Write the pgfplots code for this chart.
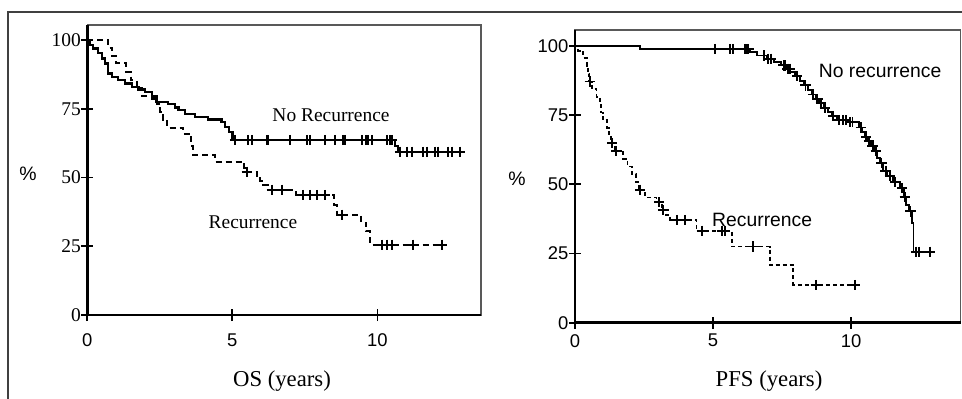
\documentclass[border=0pt]{standalone}
\usepackage{fontspec}
\setmainfont{Liberation Serif}
\newfontfamily\arial{Liberation Sans}
\usepackage{pgfplots}
\pgfplotsset{compat=1.18}
\newcommand\ticksans{\arial\fontsize{18.5}{18.5}\selectfont}
\newcommand\tickserif{\rmfamily\fontsize{19.5}{19.5}\selectfont}
\pgfplotsset{
  kmbase/.style={
    anchor=south west, scale only axis,
    ymin=0,
    xtick={0,5,10}, ytick={0,25,50,75,100},
    xtick pos=bottom, ytick pos=left,
    tick align=center, major tick length=12bp,
    tick style={line width=1.8bp, black},
    axis line style={line width=1.5bp, black!65},
    /pgf/number format/assume math mode=true,
    clip=false,
  },
  solidkm/.style={const plot, black, line width=2.1bp, mark=none},
  kmmarks/.style={only marks, mark=+, mark size=5.2bp, mark options={line width=1.9bp, black}},
}
\begin{document}
\begin{tikzpicture}
\path[use as bounding box] (0,0) rectangle (962bp,399bp);
\draw[line width=1.6bp, black!75] (8bp,0) -- (8bp,387bp) -- (962bp,387bp);

% ---------------- Left panel: OS ----------------
\begin{axis}[kmbase,
  at={(87.3bp,84bp)}, width=393.7bp, height=290bp,
  xmin=0, xmax=13.57, ymax=105.5,
  xticklabel style={font=\ticksans, yshift=-9bp},
  yticklabel style={font=\tickserif, xshift=3bp},
  xlabel={OS (years)},
  xlabel style={font=\fontsize{22.8}{22.8}\selectfont, at={(axis description cs:0.4945,-0.2276)}, anchor=center},
  ylabel={\arial\%},
  ylabel style={font=\fontsize{19.5}{19.5}\selectfont, rotate=-90, at={(axis description cs:-0.1506,0.486)}, anchor=center},
]
\draw[line width=2.6bp, black] (rel axis cs:0,1) -- (rel axis cs:0,0) -- (rel axis cs:1,0);
% No recurrence (solid)
\addplot[solidkm, line width=2.3bp] coordinates {
(0,100) (0.09,98.2) (0.2,97) (0.38,95.2) (0.5,93.3) (0.61,91.5) (0.72,87.9)
(0.84,86.7) (1.07,85.5) (1.3,84.2) (1.53,83) (1.76,82) (1.99,81.2) (2.22,78.8)
(2.39,77.6) (2.79,76.7) (3.02,75.5) (3.14,74.5) (3.37,73) (3.71,72.1) (4.17,71.1)
(4.63,70.2) (4.75,68.5) (4.88,66.5) (5.0,64.5) (5.09,63.6) (10.6,61.5) (10.7,59.4) (12.85,59.4)
};
\addplot[kmmarks] coordinates {
(5.09,63.6) (5.54,63.6) (5.68,63.6) (6.19,63.6) (6.24,63.6) (6.99,63.6) (7.57,63.6)
(7.68,63.6) (8.2,63.6) (8.54,63.6) (8.82,63.6) (8.89,63.6) (9.46,63.6) (9.6,63.6)
(9.69,63.6) (9.81,63.6) (10.32,63.6) (10.44,63.6) (10.5,63.6)
(10.78,59.4) (11.01,59.4) (11.19,59.4) (11.58,59.4) (11.7,59.4) (11.99,59.4)
(12.09,59.4) (12.44,59.4) (12.57,59.4) (12.85,59.4)
};
% Recurrence (dashed)
\addplot[const plot, black, line width=2bp, dash pattern=on 6bp off 4bp, mark=none] coordinates {
(0,100) (0.72,97.2) (0.85,94.4) (1.0,91.6) (1.35,88.4) (1.5,85.5) (1.7,82.6) (1.9,79.7)
(2.4,76.8) (2.52,73.9) (2.62,71.0) (2.75,68.1) (3.3,66) (3.58,61.5) (3.66,58.2)
(4.4,55.7) (5.4,53.5) (5.45,52.1) (5.84,50.3) (5.95,48.9) (6.07,47.3) (6.24,45.5)
(7.2,43.6) (8.52,40) (8.6,36.4) (9.45,33.6) (9.62,30.5) (9.75,25.5) (12.22,25.5)
};
\addplot[kmmarks] coordinates {
(5.5,52.1) (6.36,45.5) (6.7,45.5) (7.45,43.6) (7.68,43.6) (7.91,43.6) (8.2,43.6)
(8.77,36.4) (10.15,25.5) (10.32,25.5) (10.5,25.5) (11.24,25.5) (12.22,25.5)
};
\node[font=\fontsize{19.5}{19.5}\selectfont] at (axis cs:8.4,72.7) {No Recurrence};
\node[font=\fontsize{19.5}{19.5}\selectfont] at (axis cs:5.71,33.8) {Recurrence};
\end{axis}

% ---------------- Right panel: PFS ----------------
\begin{axis}[kmbase,
  at={(575bp,76.3bp)}, width=385.7bp, height=292.7bp,
  xmin=0, xmax=13.97, ymax=105.7,
  xticklabel style={font=\ticksans, yshift=-2bp},
  yticklabel style={font=\ticksans, xshift=3bp},
  xlabel={PFS (years)},
  xlabel style={font=\fontsize{22.8}{22.8}\selectfont, at={(axis description cs:0.503,-0.199)}, anchor=center},
  ylabel={\arial\%},
  ylabel style={font=\fontsize{19.5}{19.5}\selectfont, rotate=-90, at={(axis description cs:-0.1504,0.491)}, anchor=center},
]
\draw[line width=2.6bp, black] (rel axis cs:0,1) -- (rel axis cs:0,0) -- (rel axis cs:1,0);
% No recurrence (solid)
\addplot[solidkm, line width=1.9bp] coordinates {
(0,100) (2.36,98.8) (6.35,97.6) (6.6,96.5) (6.95,95.3) (7.2,94.1) (7.45,92.9)
(7.65,91.7) (7.8,90.5) (7.97,89.0) (8.15,87.3) (8.3,85.7) (8.45,84.1) (8.58,82.4)
(8.72,80.8) (8.85,79.2) (9.0,77.6) (9.15,76.0) (9.3,74.6) (9.48,73.2) (9.84,72.4)
(10.3,70.5) (10.38,68.8) (10.5,67.2) (10.6,65.5) (10.72,63.8) (10.82,62.1)
(10.95,59.5) (11.05,57.6) (11.17,54.8) (11.3,53.0) (11.53,50.8) (11.78,48.6)
(11.9,45.3) (12.0,42.5) (12.1,40.2) (12.2,36.0) (12.26,25.6) (12.85,25.6)
};
\addplot[kmmarks] coordinates {
(5.07,98.8) (5.62,98.8) (5.72,98.8) (6.16,98.8) (6.22,98.8) (6.28,98.8)
(6.85,96.5) (7.0,95.3) (7.1,95.3) (7.55,92.9) (7.62,92.9) (7.7,91.7) (7.78,91.7)
(8.05,89.0) (8.35,85.7) (8.62,82.4) (8.78,80.8) (8.9,79.2) (9.05,77.6) (9.35,74.6)
(9.55,73.2) (9.7,73.2) (9.8,73.2) (9.95,72.4) (10.05,72.4) (10.35,70.5) (10.55,67.2)
(10.65,65.5) (10.78,63.8) (10.9,62.1) (11.1,57.6) (11.25,54.8) (11.4,53.0)
(11.6,50.8) (11.85,48.6) (11.95,45.3) (12.15,40.2) (12.35,25.6) (12.45,25.6) (12.85,25.6)
};
% Recurrence (dashed)
\addplot[const plot, black, line width=1.9bp, dash pattern=on 4bp off 3bp, mark=none] coordinates {
(0,100) (0.12,98.2) (0.3,95.5) (0.42,92.7) (0.48,89.9) (0.52,87.1) (0.62,84.3)
(0.78,81.5) (0.9,78.7) (0.95,75.9) (1.0,73.1) (1.15,70.4) (1.22,67.6) (1.3,64.8)
(1.45,62.0) (1.75,59.2) (1.9,56.4) (2.05,53.6) (2.2,50.8) (2.3,48.0) (2.55,45.2)
(2.95,43.5) (3.15,40.7) (3.3,38.9) (3.45,37.1) (4.4,33.2) (5.68,27.5) (7.07,20.8)
(7.91,13.6) (10.14,13.6)
};
\addplot[kmmarks] coordinates {
(0.54,87.1) (1.35,64.8) (1.5,62.0) (2.36,48.0) (3.05,43.5) (3.2,40.7) (3.68,37.1)
(3.99,37.1) (4.59,33.2) (5.32,33.2) (5.43,33.2) (6.46,27.5) (8.72,13.6) (10.14,13.6)
};
\node[font=\arial\fontsize{19.4}{19.4}\selectfont] at (axis cs:11.05,90.9) {No recurrence};
\node[font=\arial\fontsize{19.4}{19.4}\selectfont] at (axis cs:6.78,37.1) {Recurrence};
\end{axis}
\end{tikzpicture}
\end{document}
